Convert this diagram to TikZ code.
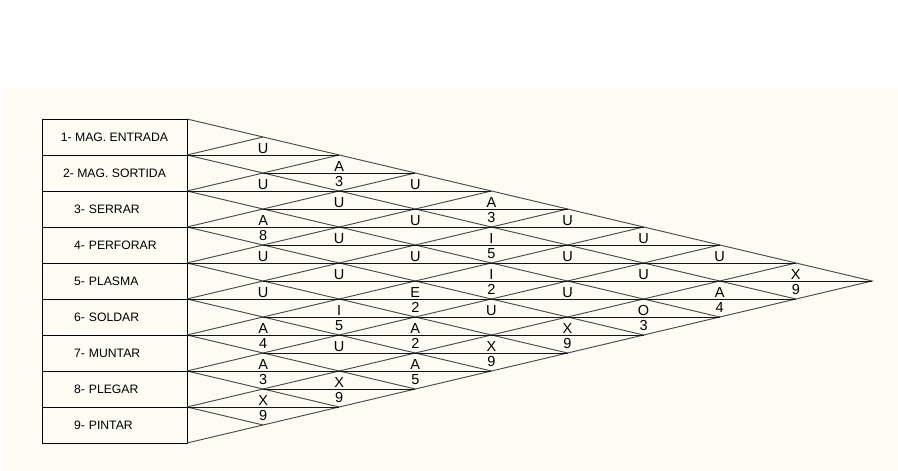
\documentclass[tikz,border=0pt]{standalone}
\usepackage{fontspec}
\setmainfont{Liberation Sans}
\usepackage{tikz}
\usetikzlibrary{positioning}
\definecolor{sheet}{RGB}{252,252,242}
\definecolor{gridgray}{RGB}{75,75,75}
\definecolor{gridblack}{RGB}{20,20,20}

\begin{document}
\begin{tikzpicture}[
  x=1pt, y=-1pt,
  node distance=0pt,
  box/.style={rectangle, draw, line width=1pt,
              minimum width=145pt, minimum height=36pt,
              inner sep=0pt, outer sep=0pt, font=\fontsize{12.2}{13}\selectfont},
  boxl/.style={box, text width=81pt, align=left, inner xsep=32pt},
  diag/.style={draw=gridgray, line width=0.95pt},
  hline/.style={draw=gridblack, line width=0.95pt},
  rel/.style={anchor=base, inner sep=0pt, font=\fontsize{14.5}{15}\selectfont}
]
\useasboundingbox (0,0) rectangle (898,471);
\fill[white] (0,0) rectangle (898,471);
\fill[sheet] (3,88) rectangle (898,471);

% activities
\node[box]  (entrada)  at (114.5,137)       {1- MAG. ENTRADA};
\node[box,  below=of entrada]  (sortida)  {2- MAG. SORTIDA};
\node[boxl, below=of sortida]  (serrar)   {3- SERRAR};
\node[boxl, below=of serrar]   (perforar) {\mbox{4- PERFORAR}};
\node[boxl, below=of perforar] (plasma)   {5- PLASMA};
\node[boxl, below=of plasma]   (soldar)   {6- SOLDAR};
\node[boxl, below=of soldar]   (muntar)   {7- MUNTAR};
\node[boxl, below=of muntar]   (plegar)   {8- PLEGAR};
\node[boxl, below=of plegar]   (pintar)   {9- PINTAR};

% relationship grid
\coordinate (apex) at (872.1,281);
\draw[diag] (entrada.north east) -- (apex) -- (pintar.south east);
\foreach \k/\act in {1/entrada, 2/sortida, 3/serrar, 4/perforar,
                     5/plasma, 6/soldar, 7/muntar, 8/plegar} {
  \draw[diag] (\act.south east) -- ++(76.1*\k,-18*\k);
  \draw[diag] (\act.south east) -- ++(76.1*9-76.1*\k,162-18*\k);
}
\foreach \m in {2,...,16} {
  \pgfmathsetmacro\xa{isodd(\m) ? 263.1 : 187}
  \pgfmathsetmacro\xb{187+76.1*min(\m,18-\m)}
  \draw[hline] (\xa,{119+18*\m}) -- (\xb,{119+18*\m});
}

% closeness ratings and reasons
\foreach \i/\j/\ltr/\nr in {1/2/U/, 1/3/A/3, 1/4/U/, 1/5/A/3, 1/6/U/, 1/7/U/, 1/8/U/, 1/9/X/9,
    2/3/U/, 2/4/U/, 2/5/U/, 2/6/I/5, 2/7/U/, 2/8/U/, 2/9/A/4,
    3/4/A/8, 3/5/U/, 3/6/U/, 3/7/I/2, 3/8/U/, 3/9/O/3,
    4/5/U/, 4/6/U/, 4/7/E/2, 4/8/U/, 4/9/X/9,
    5/6/U/, 5/7/I/5, 5/8/A/2, 5/9/X/9,
    6/7/A/4, 6/8/U/, 6/9/A/5,
    7/8/A/3, 7/9/X/9,
    8/9/X/9} {
  \pgfmathsetmacro\cx{187+(\j-\i)*76.1}
  \pgfmathsetmacro\cy{119+18*(\i+\j-1)}
  \node[rel] (ltr\i\j) at (\cx,\cy-2) {\ltr};
  \ifx\nr\empty\else
    \node[rel] (nr\i\j) at (\cx,\cy+13.5) {\nr};
  \fi
}
\end{tikzpicture}
\end{document}
